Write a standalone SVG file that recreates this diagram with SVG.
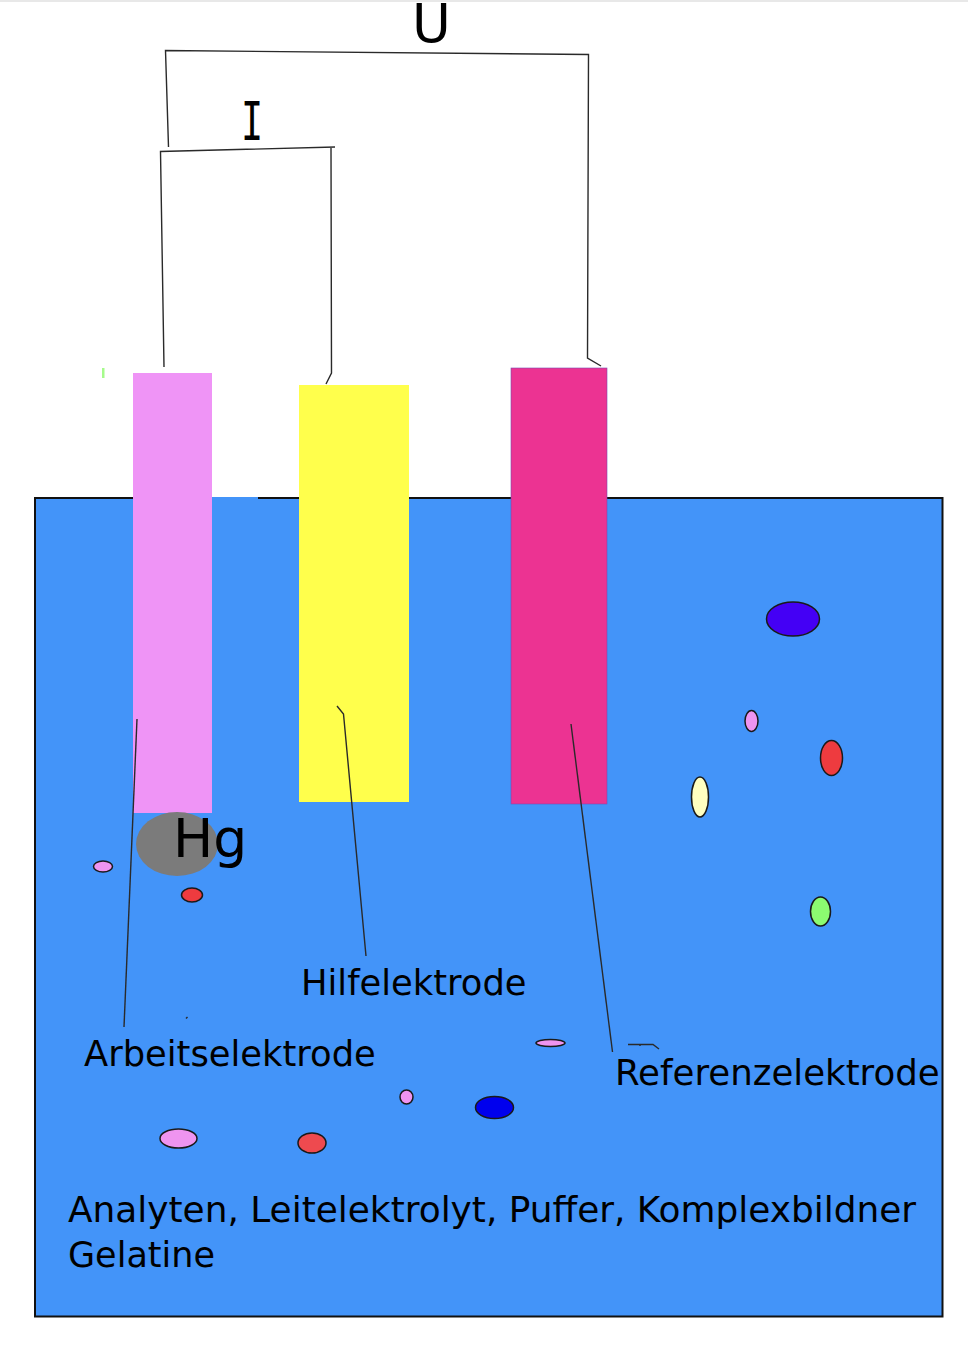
<svg xmlns="http://www.w3.org/2000/svg" width="968" height="1349" viewBox="0 0 968 1349">
<style>
text{font-family:"DejaVu Sans",sans-serif;fill:#000}
.wire{fill:none;stroke:#2a2a2a;stroke-width:1.4}
.p{stroke:#1a1a1a;stroke-width:1.5}
</style>
<rect width="968" height="1349" fill="#fff"/>
<rect width="968" height="2" fill="#e8e8e8"/>
<g id="bath">
<rect x="35" y="498" width="907.500" height="818.500" fill="#4394f9" stroke="#111" stroke-width="2"/>
<rect x="212" y="497" width="46" height="3" fill="#4394f9"/>
<rect x="102" y="368" width="2.500" height="10" fill="#a6fb8c"/>
</g>
<g id="arbeitselektrode"><rect x="133" y="373" width="79" height="440" fill="#ef94f6"/></g>
<g id="hilfelektrode"><rect x="299" y="385" width="110" height="417" fill="#ffff4c"/></g>
<g id="referenzelektrode"><rect x="511" y="368" width="96" height="436" fill="#ec3392" stroke="#7a4bb0" stroke-width="0.600"/></g>
<g id="hg">
<ellipse cx="177" cy="844" rx="41" ry="32" fill="#7b7b7b"/>
<text x="173" y="857" font-size="53.500">Hg</text>
</g>
<g id="particles">
<ellipse class="p" cx="793" cy="619" rx="26.500" ry="17" fill="#4400f5"/>
<ellipse class="p" cx="751.500" cy="721" rx="6.500" ry="10.500" fill="#ef94f0"/>
<ellipse class="p" cx="831.500" cy="758" rx="11" ry="17.500" fill="#ee3b3f"/>
<ellipse class="p" cx="700" cy="797" rx="8.500" ry="20" fill="#ffffc0"/>
<ellipse class="p" cx="820.500" cy="911.500" rx="10" ry="14.500" fill="#8cfb70"/>
<ellipse class="p" cx="103" cy="866.500" rx="9.500" ry="5.500" fill="#ef94f0"/>
<ellipse class="p" cx="192" cy="895" rx="10.500" ry="7" fill="#ee3b3f"/>
<ellipse class="p" cx="550.500" cy="1043" rx="14.500" ry="3.500" fill="#ef94f0"/>
<ellipse class="p" cx="406.500" cy="1097" rx="6.500" ry="7" fill="#ef94f0"/>
<ellipse class="p" cx="494.500" cy="1107.500" rx="19" ry="11" fill="#0000ee"/>
<ellipse class="p" cx="178.500" cy="1138.500" rx="18.500" ry="9.500" fill="#ef94f0"/>
<ellipse class="p" cx="312" cy="1143" rx="14" ry="10" fill="#ee4a4f"/>
</g>
<g id="connectors">
<path class="wire" d="M168.500 147L165.500 50.500L588.500 54.500L587.500 358L601 366"/>
<path class="wire" d="M164 367L160.500 151.500L335 147M331 147L331.500 373L326 384"/>
<path class="wire" d="M137 719L124 1027"/>
<path class="wire" d="M337 706L343.500 714L366 956"/>
<path class="wire" d="M571 724L612.500 1052"/>
<path class="wire" d="M628 1044.500L653 1044.500L659 1049M640 1044.500V1046"/>
<path class="wire" d="M186 1018.500L187.500 1017"/>
</g>
<g id="labels">
<text x="301" y="995" font-size="35.300">Hilfelektrode</text>
<text x="84" y="1066" font-size="35.300">Arbeitselektrode</text>
<text x="615" y="1085" font-size="35.600">Referenzelektrode</text>
<text x="68" y="1222" font-size="35.900">Analyten, Leitelektrolyt, Puffer, Komplexbildner</text>
<text x="68" y="1266.500" font-size="35">Gelatine</text>
<text x="412" y="42" font-size="53">U</text>
<text transform="translate(252 140) scale(.68 1)" text-anchor="middle" font-size="54" style="font-family:'DejaVu Sans Mono',monospace">I</text>
</g>
</svg>
